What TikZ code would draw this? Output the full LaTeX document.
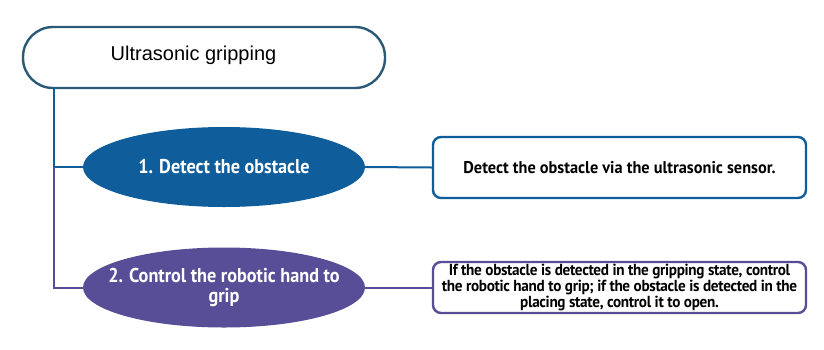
\documentclass[tikz,border=0pt]{standalone}
\usepackage{fontspec}
\setmainfont{PT Sans}
\newfontfamily\headfont{Liberation Sans}
\newfontfamily\ovalfont[FakeStretch=0.91]{PT Sans}
\newfontfamily\infofont[FakeStretch=0.96]{PT Sans}
\newfontfamily\notefont[FakeStretch=0.95,LetterSpace=-2]{PT Sans}
\usetikzlibrary{shapes.geometric}
\definecolor{headblue}{HTML}{2B5A77}
\definecolor{stepblue}{HTML}{0F5E9B}
\definecolor{steppurple}{HTML}{574E97}
\begin{document}
\begin{tikzpicture}[x=1pt,y=-1pt,
  headbox/.style={draw=headblue,line width=2.4pt,rounded corners=30pt,fill=white,
    minimum width=362pt,minimum height=61pt,inner sep=0pt},
  stepoval/.style={ellipse,minimum width=282pt,minimum height=80pt,inner sep=0pt},
  steptext/.style={text=white,font=\ovalfont\bfseries\fontsize{20}{20}\selectfont,align=center,inner sep=0pt},
  infobox/.style={draw,line width=2.4pt,rounded corners=8pt,fill=white,
    minimum width=373pt,inner sep=0pt,align=center},
  link/.style={line width=2pt}]
\useasboundingbox (0,0) rectangle (824,349);
% title
\node[headbox] (head) at (204,57.5) {};
\node[font=\headfont\fontsize{20}{22}\selectfont] (headtxt) at (193.5,55.5) {Ultrasonic gripping};
% steps
\coordinate (trunk) at (54,88);
\coordinate (split) at (54,167);
\node[stepoval,fill=stepblue] (s1) at (224,167) {};
\node[steptext] (s1txt) at (s1.center) {1. Detect the obstacle};
\node[stepoval,fill=steppurple] (s2) at (224,287.5) {};
\node[steptext] (s2txt) at (s2.center) {2. Control the robotic hand to\\grip};
% descriptions
\node[infobox,draw=stepblue,minimum height=61pt,font=\infofont\bfseries\fontsize{17}{18}\selectfont] (b1) at (619.5,167.5) {Detect the obstacle via the ultrasonic sensor.};
\node[infobox,draw=steppurple,minimum height=51pt,font=\notefont\bfseries\fontsize{16}{16}\selectfont] (b2) at (619.5,287.5) {If the obstacle is detected in the gripping state, control\\the robotic hand to grip; if the obstacle is detected in the\\placing state, control it to open.};
% connectors
\draw[link,stepblue] (trunk) -- (split) -- (s1.west);
\draw[link,steppurple] (split) |- (s2.west);
\draw[link,stepblue] (s1.east) -- (b1.west);
\draw[link,steppurple] (s2.east) -- (b2.west);
\end{tikzpicture}
\end{document}
